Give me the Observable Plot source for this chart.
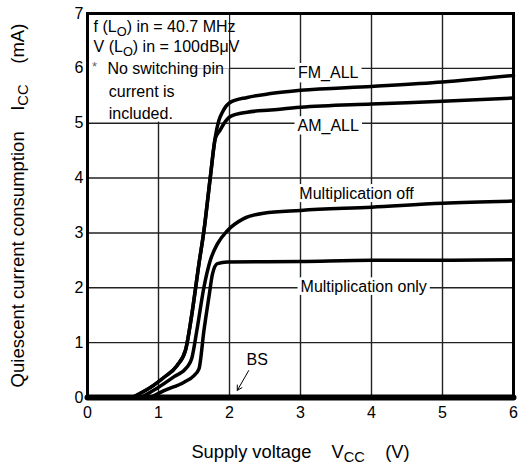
<!DOCTYPE html>
<html><head><meta charset="utf-8">
<script src="https://cdn.jsdelivr.net/npm/d3@7"></script>
<script src="https://cdn.jsdelivr.net/npm/@observablehq/plot@0.6"></script>
<style>body{margin:0;background:#fff;font-family:"Liberation Sans",Arial,sans-serif}</style>
</head><body><div id="chart"></div>
<script>
// ticks
const xTicks = [0, 1, 2, 3, 4, 5, 6];
const yTicks = [0, 1, 2, 3, 4, 5, 6, 7];
const xGrid = [1, 2, 3, 4, 5];
const yGrid = [1, 2, 3, 4, 5, 6];

// series: supply voltage (V) vs quiescent current (mA)
const fmV = [0.63, 0.93, 1.07, 1.26, 1.38, 1.47, 1.57, 1.64, 1.73, 1.80, 1.85, 1.90, 2.01, 2.25, 2.58, 3, 4, 5, 6];
const fmI = [0, 0.22, 0.36, 0.58, 0.86, 1.52, 2.44, 3.04, 4.02, 4.75, 5.05, 5.20, 5.38, 5.47, 5.54, 5.60, 5.67, 5.75, 5.87];
const amV = [0.63, 0.93, 1.07, 1.26, 1.38, 1.47, 1.57, 1.64, 1.73, 1.80, 1.87, 1.92, 2.01, 2.25, 2.58, 3, 4, 5, 6];
const amI = [0, 0.22, 0.36, 0.58, 0.86, 1.52, 2.44, 3.04, 4.02, 4.72, 4.88, 4.99, 5.12, 5.20, 5.24, 5.29, 5.35, 5.40, 5.46];
const moV = [0.75, 0.98, 1.22, 1.40, 1.47, 1.54, 1.64, 1.73, 1.83, 1.97, 2.2, 2.48, 3, 4, 5, 6];
const moI = [0, 0.17, 0.38, 0.55, 0.72, 1.22, 2.01, 2.5, 2.80, 3.04, 3.26, 3.36, 3.41, 3.47, 3.54, 3.58];
const mnV = [0.89, 1.07, 1.36, 1.50, 1.57, 1.64, 1.71, 1.76, 1.83, 1.97, 3, 4, 5, 6];
const mnI = [0, 0.12, 0.28, 0.40, 0.52, 1.22, 1.83, 2.25, 2.44, 2.47, 2.48, 2.50, 2.50, 2.51];
const bsV = [0, 6];
const bsI = [0, 0];

const seriesNames = ["FM_ALL", "AM_ALL", "Multiplication off", "Multiplication only"];
const noteLines = ["f (L{O}) in = 40.7 MHz", "V (L{O}) in = 100dBμV", "No switching pin", "current is", "included."];
const sp = "\u00a0\u00a0\u00a0\u00a0";
const xTitle = "Supply voltage" + sp + "V{CC}" + sp + "(V)";
const yTitle = "Quiescent current consumption" + sp + "I{CC}" + sp + "(mA)";

const toRows = (vs, is, name) => vs.map((v, i) => ({v, i: is[i], name}));
const curves = [
  ...toRows(fmV, fmI, seriesNames[0]),
  ...toRows(amV, amI, seriesNames[1]),
  ...toRows(moV, moI, seriesNames[2]),
  ...toRows(mnV, mnI, seriesNames[3])
];
const bs = toRows(bsV, bsI, "BS");

// layout for annotations
const labelPos = [[3.39, 5.91], [3.39, 4.96], [3.79, 3.71], [3.89, 2.02]];
const notePos = [[0.085, 6.75], [0.085, 6.39], [0.28, 5.99], [0.3, 5.57], [0.3, 5.17]];
const boxes = [{x1: 0, x2: 2, y1: 5.985, y2: 7}, {x1: 0, x2: 1.38, y1: 5.02, y2: 6}];

const chart = Plot.plot({
  width: 518, height: 469,
  marginLeft: 87, marginRight: 5, marginTop: 13, marginBottom: 72,
  style: {fontFamily: "'Liberation Sans', Arial, sans-serif", fontSize: "16px", color: "black", background: "white"},
  x: {domain: [0, 6]},
  y: {domain: [0, 7]},
  marks: [
    Plot.ruleX(xGrid, {stroke: "#222", strokeWidth: 1.4}),
    Plot.ruleY(yGrid, {stroke: "#222", strokeWidth: 1.4}),
    Plot.rect(boxes, {x1: "x1", x2: "x2", y1: "y1", y2: "y2", fill: "white"}),
    Plot.axisX({ticks: xTicks, tickFormat: d => String(d), tickSize: 0, tickPadding: 9, fontSize: 16}),
    Plot.axisY({ticks: yTicks, tickFormat: d => String(d), tickSize: 0, tickPadding: 4, fontSize: 16}),
    Plot.axisX({ticks: [], label: xTitle, labelAnchor: "center", labelOffset: 60, labelArrow: "none", fontSize: 18.3}),
    Plot.axisY({ticks: [], label: yTitle, labelAnchor: "center", labelOffset: 77, labelArrow: "none", fontSize: 18.5}),
    Plot.text(seriesNames, {x: (d, i) => labelPos[i][0], y: (d, i) => labelPos[i][1], text: d => d, fontSize: 16, fill: "black", stroke: "white", strokeWidth: 6, className: "series-label"}),
    Plot.text(noteLines, {x: (d, i) => notePos[i][0], y: (d, i) => notePos[i][1], text: d => d, textAnchor: "start", fontSize: 16, fill: "black"}),
    Plot.text(["*"], {x: 0.1, y: 6.02, text: d => d, fontSize: 13, fill: "#666"}),
    Plot.line(curves, {x: "v", y: "i", z: "name", curve: "monotone-x", stroke: "black", strokeWidth: 3.5, strokeLinejoin: "round"}),
    Plot.line(bs, {x: "v", y: "i", stroke: "black", strokeWidth: 6}),
    Plot.arrow([{a: 2.27, b: 0.49, c: 2.11, d: 0.13}], {x1: "a", y1: "b", x2: "c", y2: "d", stroke: "black", strokeWidth: 1, headLength: 8}),
    Plot.text(["BS"], {x: 2.39, y: 0.68, text: d => d, fontSize: 16, fill: "black"}),
    Plot.frame({stroke: "black", strokeWidth: 3})
  ]
});

// subscripts marked as {..}
chart.querySelectorAll("text, tspan").forEach(el => {
  if (el.children.length === 0 && el.textContent.includes("{")) {
    const parts = el.textContent.split(/(\{[^}]*\})/);
    el.textContent = "";
    let shifted = false;
    for (const p of parts) {
      if (!p) continue;
      const t = document.createElementNS("http://www.w3.org/2000/svg", "tspan");
      if (p.startsWith("{")) {
        t.textContent = p.slice(1, -1);
        t.setAttribute("font-size", "0.8em");
        t.setAttribute("dy", "4");
        shifted = true;
      } else {
        t.textContent = p;
        if (shifted) { t.setAttribute("dy", "-4"); shifted = false; }
      }
      el.appendChild(t);
    }
  }
});
document.getElementById("chart").appendChild(chart);

// white boxes behind the series labels (they interrupt the grid)
chart.querySelectorAll(".series-label text").forEach(t => {
  const b = t.getBBox();
  const r = document.createElementNS("http://www.w3.org/2000/svg", "rect");
  r.setAttribute("x", b.x - 3);
  r.setAttribute("y", b.y);
  r.setAttribute("width", b.width + 6);
  r.setAttribute("height", b.height);
  r.setAttribute("fill", "white");
  r.setAttribute("stroke", "none");
  if (t.getAttribute("transform")) r.setAttribute("transform", t.getAttribute("transform"));
  t.parentNode.insertBefore(r, t);
});
</script>
</body></html>
